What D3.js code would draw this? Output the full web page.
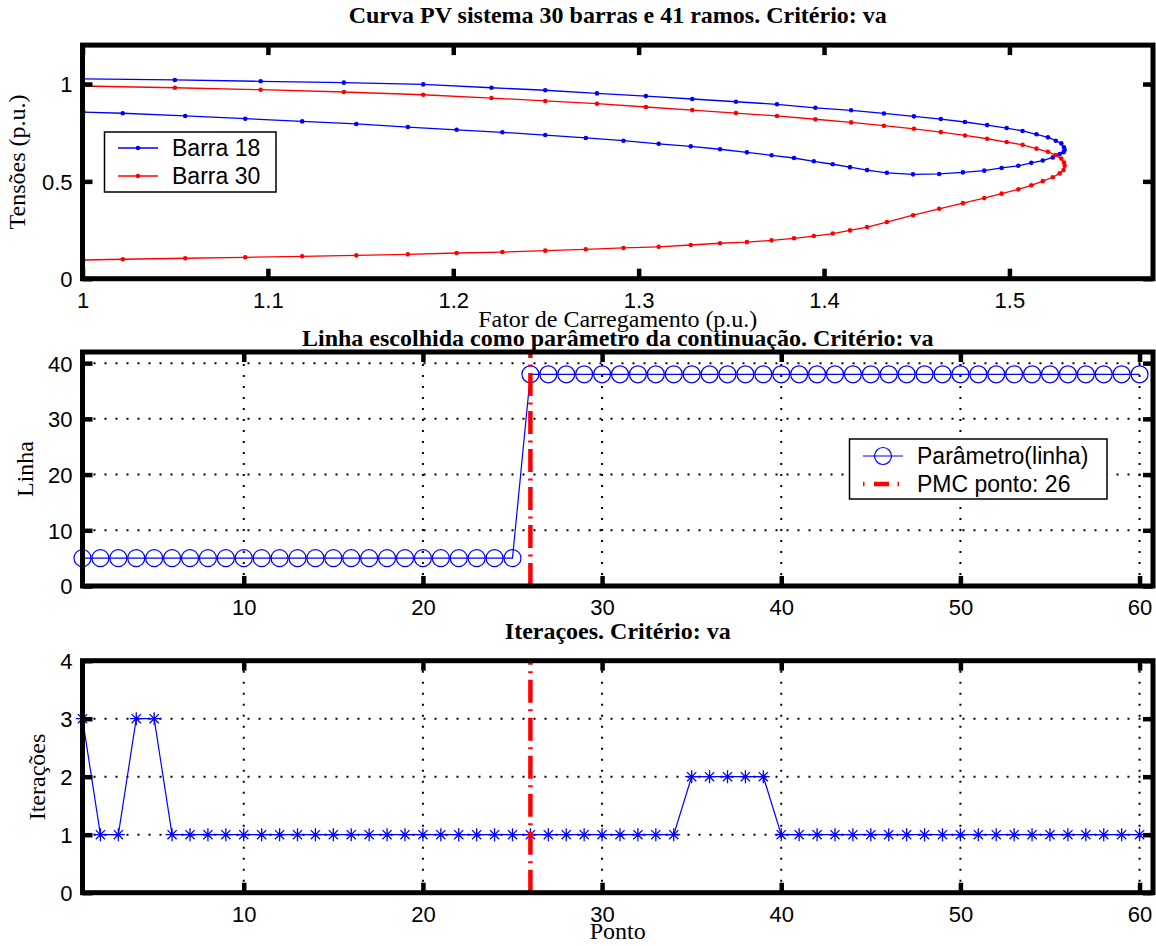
<!DOCTYPE html>
<html>
<head>
<meta charset="utf-8">
<script src="https://cdn.jsdelivr.net/npm/d3@7"></script>
<style>
  html, body { margin: 0; padding: 0; background: #fff; }
  svg { display: block; }
  .tick text { font-family: "Liberation Sans", Arial, sans-serif; font-size: 22px; fill: #000; }
  .tick line { stroke: #000; stroke-width: 4.5; }
  .serif { font-family: "Liberation Serif", "Times New Roman", serif; fill: #000; }
  .sans { font-family: "Liberation Sans", Arial, sans-serif; fill: #000; }
</style>
</head>
<body>
<svg id="fig" width="1156" height="946"></svg>
<script>
// ---- Curva PV: fator de carregamento (p.u.) ao longo da continuação ----
const fatorCarregamento = [
  1.0000, 1.0498, 1.0961, 1.1410, 1.1838, 1.2206, 1.2496, 1.2775, 1.3039, 1.3289,
  1.3525, 1.3746, 1.3953, 1.4146, 1.4323, 1.4485, 1.4630, 1.4760, 1.4880, 1.4985,
  1.5071, 1.5146, 1.5208, 1.5250, 1.5280, 1.5294, 1.5298,
  1.5292, 1.5271, 1.5234, 1.5180, 1.5118, 1.5048, 1.4958, 1.4864, 1.4749, 1.4621,
  1.4480, 1.4339, 1.4232, 1.4140, 1.4047, 1.3945, 1.3838, 1.3717, 1.3584, 1.3439,
  1.3281, 1.3108, 1.2918, 1.2715, 1.2496, 1.2265, 1.2018, 1.1755, 1.1477, 1.1185,
  1.0878, 1.0554, 1.0217, 1.0005
];
// Tensão da barra 18 (p.u.)
const tensaoBarra18 = [
  1.026, 1.021, 1.014, 1.007, 0.998, 0.981, 0.968, 0.952, 0.938, 0.923,
  0.909, 0.896, 0.878, 0.865, 0.849, 0.834, 0.820, 0.805, 0.789, 0.774,
  0.759, 0.742, 0.726, 0.709, 0.695, 0.675, 0.661,
  0.650, 0.640, 0.623, 0.607, 0.595, 0.580, 0.569, 0.555, 0.546, 0.538,
  0.536, 0.544, 0.558, 0.573, 0.588, 0.603, 0.620, 0.634, 0.649, 0.665,
  0.680, 0.693, 0.709, 0.723, 0.738, 0.752, 0.765, 0.779, 0.795, 0.808,
  0.822, 0.836, 0.850, 0.856
];
// Tensão da barra 30 (p.u.)
const tensaoBarra30 = [
  0.990, 0.981, 0.971, 0.959, 0.945, 0.928, 0.913, 0.899, 0.882, 0.866,
  0.851, 0.836, 0.819, 0.803, 0.786, 0.770, 0.753, 0.736, 0.719, 0.702,
  0.688, 0.668, 0.652, 0.635, 0.617, 0.597, 0.580,
  0.558, 0.541, 0.521, 0.501, 0.480, 0.459, 0.437, 0.414, 0.388, 0.359,
  0.326, 0.291, 0.265, 0.248, 0.232, 0.219, 0.2075, 0.197, 0.188, 0.182,
  0.173, 0.164, 0.158, 0.151, 0.144, 0.137, 0.132, 0.125, 0.120, 0.115,
  0.110, 0.105, 0.100, 0.096
];

// ---- Linha escolhida como parâmetro em cada ponto (1..60) ----
const parametroLinha = [
  5, 5, 5, 5, 5, 5, 5, 5, 5, 5,
  5, 5, 5, 5, 5, 5, 5, 5, 5, 5,
  5, 5, 5, 5, 5, 38, 38, 38, 38, 38,
  38, 38, 38, 38, 38, 38, 38, 38, 38, 38,
  38, 38, 38, 38, 38, 38, 38, 38, 38, 38,
  38, 38, 38, 38, 38, 38, 38, 38, 38, 38
];

// ---- Número de iterações em cada ponto (1..60) ----
const iteracoes = [
  3, 1, 1, 3, 3, 1, 1, 1, 1, 1,
  1, 1, 1, 1, 1, 1, 1, 1, 1, 1,
  1, 1, 1, 1, 1, 1, 1, 1, 1, 1,
  1, 1, 1, 1, 2, 2, 2, 2, 2, 1,
  1, 1, 1, 1, 1, 1, 1, 1, 1, 1,
  1, 1, 1, 1, 1, 1, 1, 1, 1, 1
];

const pontoPMC = 26;

// ---- Ticks ----
const fatorTicks = [1, 1.1, 1.2, 1.3, 1.4, 1.5];
const tensaoTicks = [0, 0.5, 1];
const pontoTicks = [10, 20, 30, 40, 50, 60];
const linhaTicks = [0, 10, 20, 30, 40];
const iterTicks = [0, 1, 2, 3, 4];

// ---- Texts ----
const titulos = [
  "Curva PV sistema 30 barras e 41 ramos. Critério: va",
  "Linha escolhida como parâmetro da continuação. Critério: va",
  "Iteraçoes. Critério: va"
];

const svg = d3.select("#fig");
const BLUE = "#0000ff", RED = "#ff0000";
const L = 82.5, R = 1153;

// Frame with inward ticks on all four sides
function frame(g, x, y, xt, yt, xfmt, yfmt) {
  const [x0, x1] = x.range();
  const [y0, y1] = y.range();
  const bottom = g.append("g").attr("transform", `translate(0,${y0})`)
    .call(d3.axisBottom(x).tickValues(xt).tickSizeInner(-10).tickSizeOuter(0).tickPadding(13.5).tickFormat(xfmt));
  const top = g.append("g").attr("transform", `translate(0,${y1})`)
    .call(d3.axisTop(x).tickValues(xt).tickSizeInner(-10).tickSizeOuter(0).tickFormat(""));
  const left = g.append("g").attr("transform", `translate(${x0},0)`)
    .call(d3.axisLeft(y).tickValues(yt).tickSizeInner(-10).tickSizeOuter(0).tickPadding(10).tickFormat(yfmt));
  const right = g.append("g").attr("transform", `translate(${x1},0)`)
    .call(d3.axisRight(y).tickValues(yt).tickSizeInner(-10).tickSizeOuter(0).tickFormat(""));
  [bottom, top, left, right].forEach(a => a.select(".domain").remove());
  left.selectAll(".tick text").attr("dy", "0.36em");
  g.append("rect")
    .attr("x", x0).attr("y", y1)
    .attr("width", x1 - x0).attr("height", y0 - y1)
    .attr("fill", "none").attr("stroke", "#000").attr("stroke-width", 5);
}

function grid(g, x, y, xt, yt) {
  const [x0, x1] = x.range();
  const [y0, y1] = y.range();
  const gg = g.append("g").attr("stroke", "#000").attr("stroke-width", 2)
    .attr("stroke-dasharray", "2,9");
  gg.selectAll("line.v").data(xt).join("line").attr("class", "v")
    .attr("x1", d => x(d)).attr("x2", d => x(d)).attr("y1", y0).attr("y2", y1);
  gg.selectAll("line.h").data(yt).join("line").attr("class", "h")
    .attr("x1", x0).attr("x2", x1).attr("y1", d => y(d)).attr("y2", d => y(d));
}

function titulo(text, cx, y) {
  svg.append("text").attr("class", "serif").attr("x", cx).attr("y", y)
    .attr("text-anchor", "middle").attr("font-size", 24).attr("font-weight", "bold").text(text);
}
function rotulo(text, x, y, rot) {
  const t = svg.append("text").attr("class", "serif").attr("font-size", 24)
    .attr("text-anchor", "middle").text(text);
  if (rot) t.attr("transform", `translate(${x},${y}) rotate(-90)`);
  else t.attr("x", x).attr("y", y);
}

const cx = (L + R) / 2;
const fmt = d => String(d);

// ================= Painel 1: curva PV =================
const x1 = d3.scaleLinear().domain([1, 1.57745]).range([L, R]);
const y1 = d3.scaleLinear().domain([0, 1.2]).range([278.7, 45.1]);
const g1 = svg.append("g");

const pv = fatorCarregamento.map((f, i) => ({ f, v18: tensaoBarra18[i], v30: tensaoBarra30[i] }));
const series1 = [
  { key: "v18", color: BLUE, nome: "Barra 18" },
  { key: "v30", color: RED, nome: "Barra 30" }
];
series1.forEach(s => {
  g1.append("path").datum(pv)
    .attr("fill", "none").attr("stroke", s.color).attr("stroke-width", 1.3)
    .attr("d", d3.line().x(d => x1(d.f)).y(d => y1(d[s.key])));
  g1.append("g").attr("fill", s.color).selectAll("circle").data(pv).join("circle")
    .attr("cx", d => x1(d.f)).attr("cy", d => y1(d[s.key])).attr("r", 2.3);
});
frame(g1, x1, y1, fatorTicks, tensaoTicks, fmt, fmt);

// legenda
const lg1 = svg.append("g");
lg1.append("rect").attr("x", 104.5).attr("y", 132).attr("width", 171.5).attr("height", 60)
  .attr("fill", "#fff").attr("stroke", "#000").attr("stroke-width", 1.5);
series1.forEach((s, i) => {
  const yy = 148 + i * 28;
  lg1.append("line").attr("x1", 118).attr("x2", 158).attr("y1", yy).attr("y2", yy)
    .attr("stroke", s.color).attr("stroke-width", 1.3);
  lg1.append("circle").attr("cx", 138).attr("cy", yy).attr("r", 2.3).attr("fill", s.color);
  lg1.append("text").attr("class", "sans").attr("x", 172).attr("y", yy).attr("dy", "0.36em")
    .attr("font-size", 23).text(s.nome);
});

titulo(titulos[0], cx, 23);
rotulo("Fator de Carregamento (p.u.)", cx, 327, false);
rotulo("Tensões (p.u.)", 24.5, 162, true);

// ================= Painel 2: linha parâmetro =================
const x2 = d3.scaleLinear().domain([1, 60.75]).range([L, R]);
const y2 = d3.scaleLinear().domain([0, 42]).range([586, 352]);
const g2 = svg.append("g");
grid(g2, x2, y2, pontoTicks, linhaTicks);
const pts2 = parametroLinha.map((v, i) => ({ p: i + 1, v }));
g2.append("path").datum(pts2).attr("fill", "none").attr("stroke", BLUE).attr("stroke-width", 1.2)
  .attr("d", d3.line().x(d => x2(d.p)).y(d => y2(d.v)));
g2.append("g").selectAll("circle").data(pts2).join("circle")
  .attr("cx", d => x2(d.p)).attr("cy", d => y2(d.v)).attr("r", 8.5)
  .attr("fill", "none").attr("stroke", BLUE).attr("stroke-width", 1.2);
g2.append("line")
  .attr("x1", x2(pontoPMC)).attr("x2", x2(pontoPMC))
  .attr("y1", y2(0)).attr("y2", y2(42))
  .attr("stroke", RED).attr("stroke-width", 4.5).attr("stroke-dasharray", "23,6.5,2,6.5");
frame(g2, x2, y2, pontoTicks, linhaTicks, fmt, fmt);

// legenda
const lg2 = svg.append("g");
lg2.append("rect").attr("x", 849.5).attr("y", 439).attr("width", 257.5).attr("height", 60)
  .attr("fill", "#fff").attr("stroke", "#000").attr("stroke-width", 1.5);
lg2.append("line").attr("x1", 863).attr("x2", 903).attr("y1", 456).attr("y2", 456)
  .attr("stroke", BLUE).attr("stroke-width", 1.2);
lg2.append("circle").attr("cx", 883).attr("cy", 456).attr("r", 8.5)
  .attr("fill", "none").attr("stroke", BLUE).attr("stroke-width", 1.2);
lg2.append("line").attr("x1", 863).attr("x2", 899).attr("y1", 484).attr("y2", 484)
  .attr("stroke", RED).attr("stroke-width", 4.5).attr("stroke-dasharray", "1.5,9.5,15,8.5,1.5");
lg2.append("text").attr("class", "sans").attr("x", 917).attr("y", 456).attr("dy", "0.36em")
  .attr("font-size", 23).text("Parâmetro(linha)");
lg2.append("text").attr("class", "sans").attr("x", 917).attr("y", 484).attr("dy", "0.36em")
  .attr("font-size", 23).text("PMC ponto: " + pontoPMC);

titulo(titulos[1], cx, 346);
rotulo("Linha", 33, 469, true);

// ================= Painel 3: iterações =================
const x3 = d3.scaleLinear().domain([1, 60.75]).range([L, R]);
const y3 = d3.scaleLinear().domain([0, 4]).range([892.7, 660.7]);
const g3 = svg.append("g");
grid(g3, x3, y3, pontoTicks, iterTicks);
const pts3 = iteracoes.map((v, i) => ({ p: i + 1, v }));
g3.append("path").datum(pts3).attr("fill", "none").attr("stroke", BLUE).attr("stroke-width", 1.2)
  .attr("d", d3.line().x(d => x3(d.p)).y(d => y3(d.v)));
const s = 6.5, q = 4.6;
const asterisco = `M0,${-s}V${s}M${-s},0H${s}M${-q},${-q}L${q},${q}M${-q},${q}L${q},${-q}`;
g3.append("g").selectAll("path").data(pts3).join("path")
  .attr("transform", d => `translate(${x3(d.p)},${y3(d.v)})`)
  .attr("d", asterisco).attr("fill", "none").attr("stroke", BLUE).attr("stroke-width", 1.3);
g3.append("line")
  .attr("x1", x3(pontoPMC)).attr("x2", x3(pontoPMC))
  .attr("y1", y3(0)).attr("y2", y3(4))
  .attr("stroke", RED).attr("stroke-width", 4.5).attr("stroke-dasharray", "23,6.5,2,6.5");
frame(g3, x3, y3, pontoTicks, iterTicks, fmt, fmt);

titulo(titulos[2], cx, 639);
rotulo("Iterações", 45, 777, true);
rotulo("Ponto", cx, 939, false);
</script>
</body>
</html>
